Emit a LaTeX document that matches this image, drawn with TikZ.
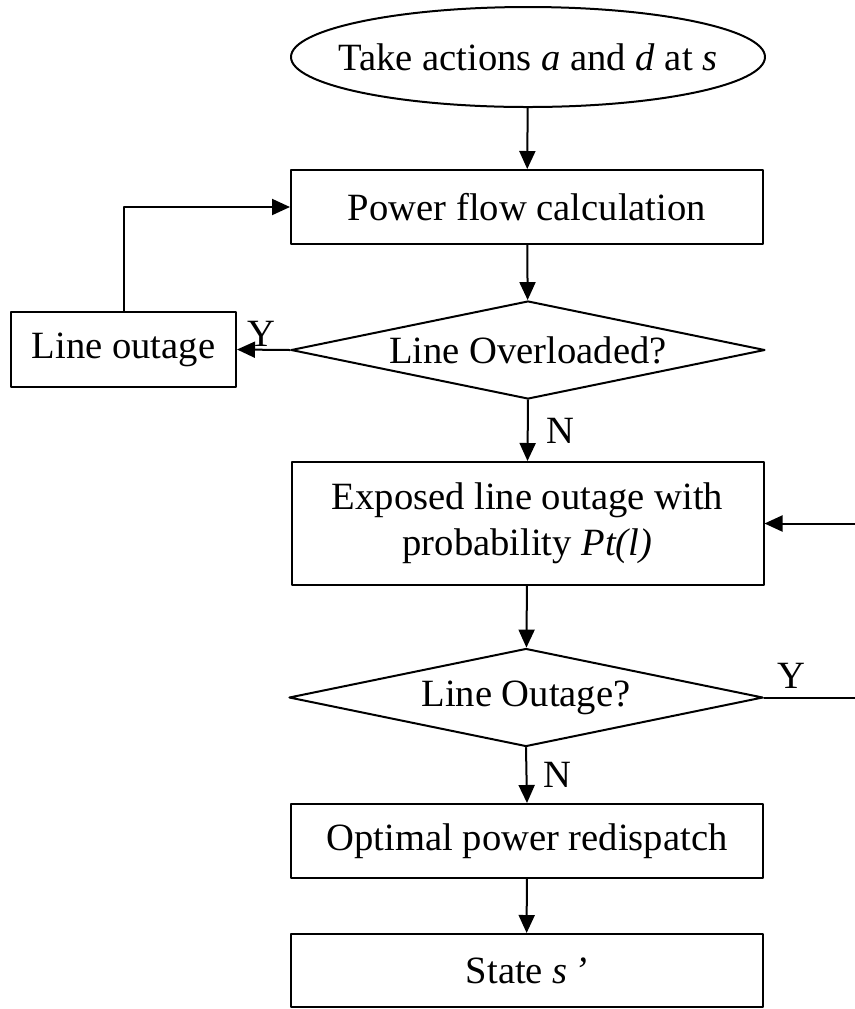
\documentclass[tikz,border=0pt]{standalone}
\usepackage{fontspec}
\setmainfont{Liberation Serif}
\usepackage{tikz}
\usetikzlibrary{arrows.meta,positioning,shapes.geometric}
\tikzset{
  every picture/.append style={line cap=round,line join=round},
  flow text/.style={font=\fontsize{19.3}{23}\selectfont},
  flow box/.style={flow text,draw,line width=1pt,rectangle,inner sep=2pt,
    minimum width=236pt,minimum height=37pt,align=center},
  flow start/.style={flow text,draw,line width=1pt,ellipse,inner xsep=-12pt,
    inner ysep=6pt,minimum width=237pt,minimum height=50pt},
  flow decision/.style={flow text,draw,line width=1pt,diamond,aspect=4.85,
    inner sep=0pt,minimum width=237pt,minimum height=49pt},
  flow arrow/.style={line width=1pt,-{Triangle[length=9pt,width=8pt]}},
  flow line/.style={line width=1pt},
  flow label/.style={flow text,inner sep=1pt}
}

\begin{document}
\begin{tikzpicture}[x=0.5pt,y=-0.5pt]
  \useasboundingbox (0,0) rectangle (855,1009);

  \node[flow start] (act) at (528,57) {Take actions \textit{a} and \textit{d} at \textit{s}};
  \node[flow box] (pflow) at (527,207) {Power flow calculation};
  \node[flow decision] (overload) at (528,350) {Line Overloaded?};
  \node[flow box,minimum width=112.5pt,minimum height=37.5pt] (lineout) at (123.5,349.5) {Line outage};
  \node[flow box,minimum height=61.5pt] (exposed) at (527.5,523.5)
    {Exposed line outage with\\probability \textit{Pt(l)}};
  \node[flow decision] (outage) at (526,697.5) {Line Outage?};
  \node[flow box] (redispatch) at (527,841) {Optimal power redispatch};
  \node[flow box,minimum height=36.5pt] (state) at (526.5,970.5) {State \textit{s}\,\textit{’}};
  % return path runs just past the right edge
  \coordinate (back) at (860,697.5);

  \draw[flow arrow] (act) -- (pflow);
  \draw[flow arrow] (pflow) -- (overload);
  \draw[flow arrow] (overload.west) -- node[flow label,above,pos=0.53] (ylab1) {Y} (lineout.east);
  \draw[flow arrow] (lineout.north) |- (pflow.west);
  \draw[flow arrow] (overload.south) -- node[flow label,right,xshift=8pt] (nlab1) {N} (exposed.north);
  \draw[flow arrow] (exposed) -- (outage);
  \draw[flow line] (outage.east) -- node[flow label,above,pos=0.29,yshift=3pt] (ylab2) {Y} (back);
  \draw[flow arrow] (back) |- (exposed.east);
  \draw[flow arrow] (outage.south) -- node[flow label,right,xshift=7pt] (nlab2) {N} (redispatch.north);
  \draw[flow arrow] (redispatch) -- (state);
\end{tikzpicture}
\end{document}
